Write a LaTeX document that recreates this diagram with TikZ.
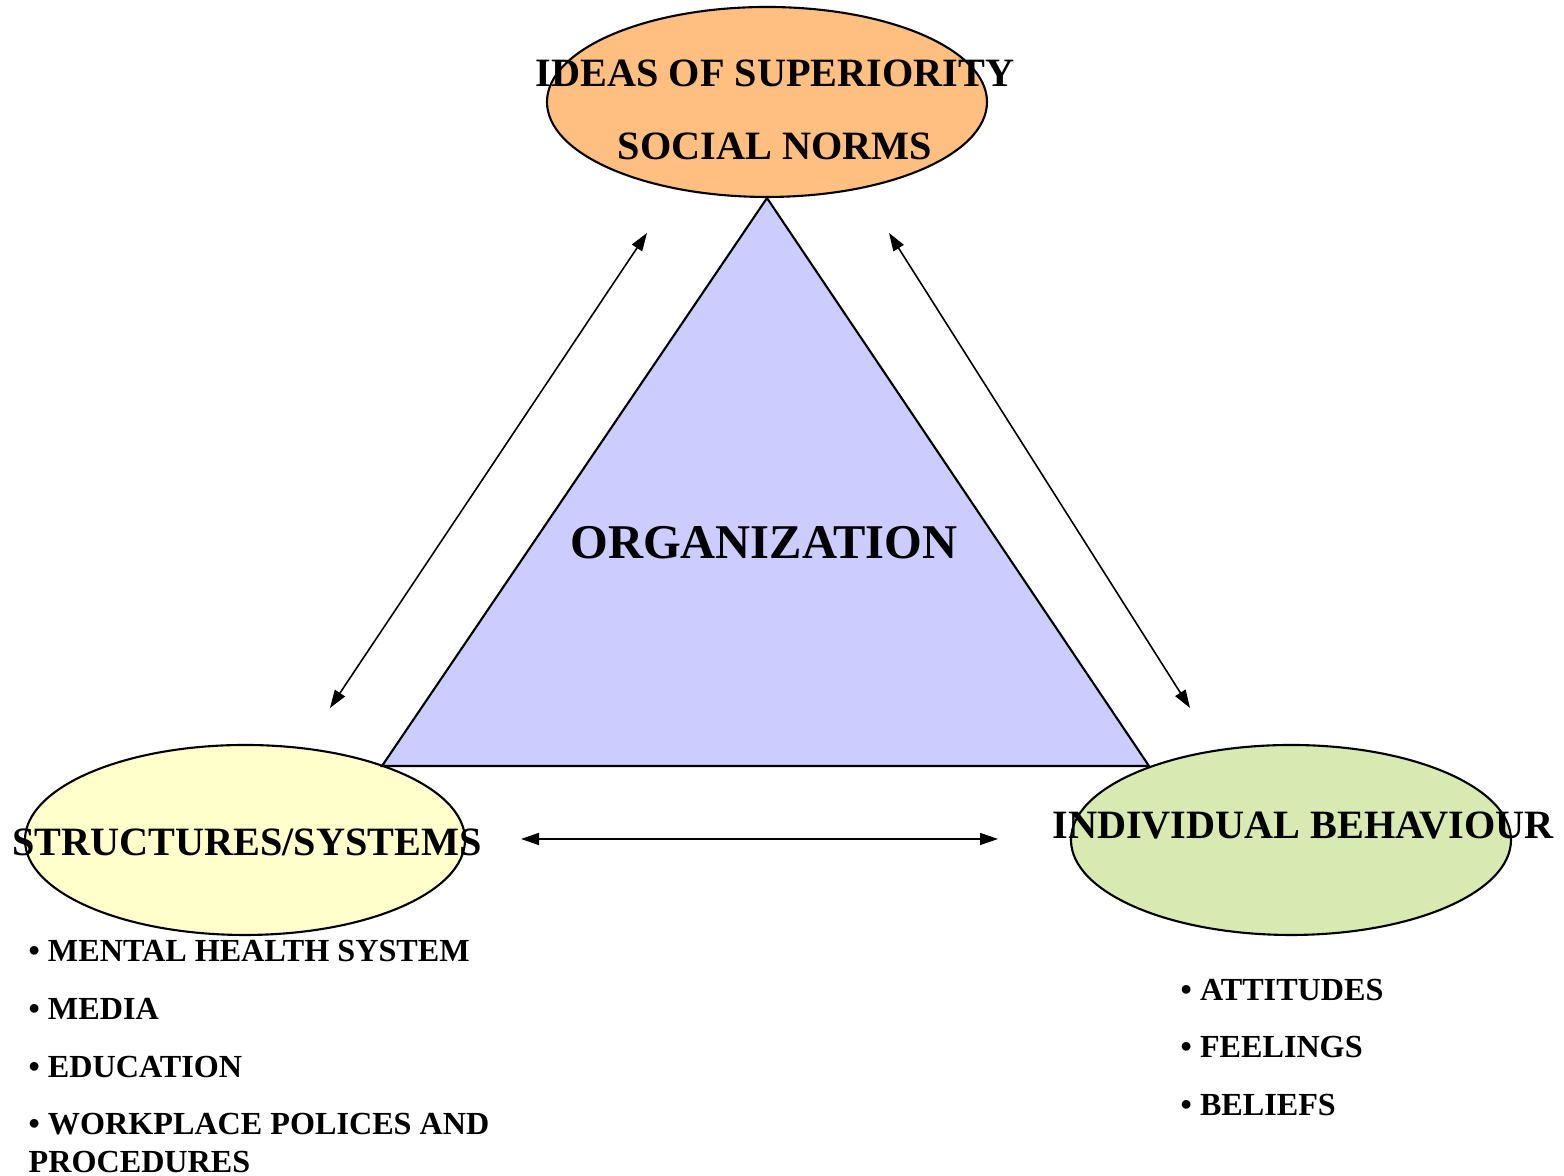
\documentclass[tikz,border=0pt]{standalone}
\usepackage{fontspec}
\setmainfont{Liberation Serif}
\usepackage{xcolor}
\usepackage{tikz}
\usetikzlibrary{positioning,calc,arrows.meta,shapes.geometric}

\definecolor{normfill}{RGB}{255,191,128}
\definecolor{orgfill}{RGB}{204,204,255}
\definecolor{sysfill}{RGB}{255,255,204}
\definecolor{indfill}{RGB}{216,233,178}

\begin{document}
\begin{tikzpicture}[
    every node/.style={font=\bfseries},
    blob/.style={ellipse, draw=black, line width=0.6pt, minimum width=4.4cm,
                 minimum height=1.9cm, inner sep=0pt},
    norms/.style={blob, fill=normfill},
    syst/.style={blob, fill=sysfill},
    indiv/.style={blob, fill=indfill},
    org/.style={draw=black, line width=0.6pt, fill=orgfill, line join=miter},
    lbl/.style={font=\fontsize{11.45}{13}\selectfont\bfseries, inner sep=0pt},
    item/.style={font=\fontsize{9.15}{10}\selectfont\bfseries, inner sep=0pt, anchor=west},
    link/.style={{Triangle[length=1.8mm,width=1.2mm]}-{Triangle[length=1.8mm,width=1.2mm]},
                 line width=0.45pt},
]
\useasboundingbox (0,0) rectangle (15.64,11.76);

% =====================================================================
% Three ellipses
% =====================================================================
\node[norms] (sup) at (7.67,10.74) {};
\node[syst] (sys) at (2.45,3.36) {};
\node[indiv] (ind) at (12.91,3.36) {};

% Triangle hanging from the top ellipse
\coordinate (tl) at (3.82,4.10);
\coordinate (tr) at (11.49,4.10);
\filldraw[org] (sup.south) -- (tr) -- (tl) -- cycle;

% Labels, drawn over the shapes
\node[lbl] (supa) at (7.75,11.03) {IDEAS OF SUPERIORITY};
\node[lbl] (supb) at (7.75,10.30) {SOCIAL NORMS};
\node[font=\fontsize{13.8}{15}\selectfont\bfseries, inner sep=0pt] (orgt) at (7.64,6.33) {ORGANIZATION};
\node[lbl] (syst) at (2.47,3.34) {STRUCTURES/SYSTEMS};
\node[lbl] (indt) at (13.03,3.50) {INDIVIDUAL BEHAVIOUR};

% =====================================================================
% Two-way arrows between the corners
% =====================================================================
\coordinate (la) at (3.30,4.68);
\coordinate (lb) at (6.47,9.43);
\coordinate (ra) at (8.89,9.43);
\coordinate (rb) at (11.90,4.68);
\coordinate (ha) at (5.21,3.37);
\coordinate (hb) at (9.98,3.37);
\draw[link] (la) -- (lb);
\draw[link] (ra) -- (rb);
\draw[link] (ha) -- (hb);

% =====================================================================
% Bullet lists
% =====================================================================
\node[item] (s1) at (0.28,2.25) {\textbullet{} MENTAL HEALTH SYSTEM};
\node[item] (s2) at (0.28,1.67) {\textbullet{} MEDIA};
\node[item] (s3) at (0.28,1.09) {\textbullet{} EDUCATION};
\node[item] (s4) at (0.28,0.52) {\textbullet{} WORKPLACE POLICES AND};
\node[item] (s5) at (0.28,0.14) {PROCEDURES};

\node[item] (i1) at (11.80,1.86) {\textbullet{} ATTITUDES};
\node[item] (i2) at (11.80,1.29) {\textbullet{} FEELINGS};
\node[item] (i3) at (11.80,0.71) {\textbullet{} BELIEFS};

\end{tikzpicture}
\end{document}
